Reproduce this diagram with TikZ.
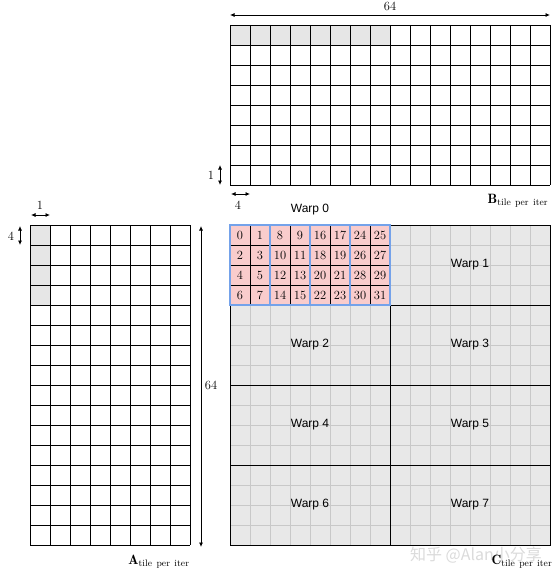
\documentclass[tikz,border=0pt]{standalone}
\usepackage{fontspec}
\newfontfamily\warpfont{Liberation Sans}
\newfontfamily\cjkfont{Noto Sans CJK SC}
\usetikzlibrary{arrows.meta}
\definecolor{hl}{HTML}{E6E6E6}
\definecolor{cfill}{HTML}{E8E8E8}
\definecolor{cgrid}{HTML}{C8C8C8}
\definecolor{pinkc}{HTML}{F9CCCC}
\definecolor{bluec}{HTML}{74A2EA}
\tikzset{
  cellline/.style={black, line width=0.9pt},
  lightline/.style={cgrid, line width=0.7pt},
  groupline/.style={bluec, line width=1.6pt},
  dimarrow/.style={{Latex[length=4.5pt,width=4pt]}-{Latex[length=4.5pt,width=4pt]}, line width=0.8pt},
  serif/.style={font=\fontsize{12.5}{14}\selectfont, inner sep=1pt},
  num/.style={font=\fontsize{12.5}{14}\selectfont, inner sep=0pt},
  warplabel/.style={font=\warpfont\fontsize{12}{14}\selectfont, inner sep=1pt},
  matlabel/.style={font=\fontsize{13.5}{15}\selectfont, inner sep=0pt},
}
\begin{document}
\begin{tikzpicture}[x=1pt,y=-1pt]
\useasboundingbox[fill=white] (0,0) rectangle (556,575);

% ---------- B tile ----------
\fill[hl] (230,25) rectangle (390,45);
\foreach \x in {230,250,...,550} \draw[cellline] (\x,25) -- (\x,185);
\foreach \y in {25,45,...,185} \draw[cellline] (230,\y) -- (550,\y);

\coordinate (bl) at (230,15); \coordinate (br) at (550,15);
\draw[dimarrow] (bl) -- (br);
\node[serif] (b64) at (390,6) {64};
\coordinate (bv1) at (220,165); \coordinate (bv2) at (220,185);
\draw[dimarrow] (bv1) -- (bv2);
\node[serif] (b1) at (211,175) {1};
\coordinate (bh1) at (231,194); \coordinate (bh2) at (250,194);
\draw[dimarrow] (bh1) -- (bh2);
\node[serif] (b4) at (238,205) {4};
\node[matlabel] (blab) at (518,201) {$\mathbf{B}_{\mathrm{tile\ per\ iter}}$};

% ---------- A tile ----------
\fill[hl] (30,225) rectangle (50,305);
\foreach \x in {30,50,...,190} \draw[cellline] (\x,225) -- (\x,545);
\foreach \y in {225,245,...,545} \draw[cellline] (30,\y) -- (190,\y);

\coordinate (ah1) at (31,215); \coordinate (ah2) at (50,215);
\draw[dimarrow] (ah1) -- (ah2);
\node[serif] (a1) at (40,205) {1};
\coordinate (av1) at (20,226); \coordinate (av2) at (20,245);
\draw[dimarrow] (av1) -- (av2);
\node[serif] (a4) at (11,236) {4};
\coordinate (at) at (201,226); \coordinate (ab) at (201,547);
\draw[dimarrow] (at) -- (ab);
\node[serif] (a64) at (211,385) {64};
\node[matlabel] (alab) at (159,562) {$\mathbf{A}_{\mathrm{tile\ per\ iter}}$};

% ---------- C tile ----------
\fill[cfill] (230,225) rectangle (550,545);
\foreach \x in {250,270,...,530} \draw[lightline] (\x,225) -- (\x,545);
\foreach \y in {245,265,...,525} \draw[lightline] (230,\y) -- (550,\y);
\draw[cellline] (230,225) rectangle (550,545);
\draw[cellline] (390,225) -- (390,545);
\foreach \y in {305,385,465} \draw[cellline] (230,\y) -- (550,\y);

% warp 0 detail
\fill[pinkc] (230,225) rectangle (390,305);
\foreach \x in {250,290,330,370} \draw[cellline] (\x,225) -- (\x,305);
\foreach \y in {245,265,285} \draw[cellline] (230,\y) -- (390,\y);
\foreach \k in {0,1,2,3} \draw[groupline] (230+40*\k,225) rectangle (270+40*\k,305);
\foreach \c in {0,...,7} {
  \foreach \r in {0,...,3} {
    \pgfmathtruncatemacro\v{int(\c/2)*8+\r*2+mod(\c,2)}
    \node[num] (n\v) at (240+20*\c,235+20*\r) {\v};
  }
}

\node[warplabel] (w0) at (310,210) {Warp 0};
\node[warplabel] (w1) at (470,265) {Warp 1};
\node[warplabel] (w2) at (310,345) {Warp 2};
\node[warplabel] (w3) at (470,345) {Warp 3};
\node[warplabel] (w4) at (310,425) {Warp 4};
\node[warplabel] (w5) at (470,425) {Warp 5};
\node[warplabel] (w6) at (310,505) {Warp 6};
\node[warplabel] (w7) at (470,505) {Warp 7};

\node[font=\cjkfont\fontsize{16}{18}\selectfont, text=black!14, inner sep=0pt] (wm) at (476,555) {知乎 @Alan小分享};
\node[matlabel] (clab) at (522,562) {$\mathbf{C}_{\mathrm{tile\ per\ iter}}$};
\end{tikzpicture}
\end{document}
